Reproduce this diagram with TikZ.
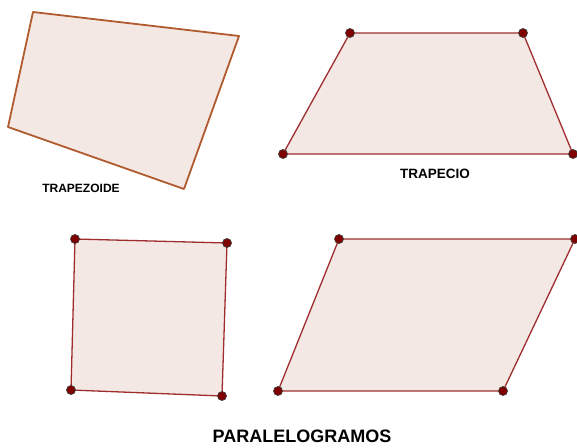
\documentclass[tikz,border=0pt]{standalone}
\usepackage{fontspec}
\setmainfont{Liberation Sans}
\definecolor{shfill}{HTML}{F4E8E4}
\definecolor{tzline}{HTML}{B05A2E}
\definecolor{pline}{HTML}{9E2E2E}
\definecolor{dotfill}{HTML}{800000}
\tikzset{
  shapefill/.style={fill=shfill},
  tzedge/.style={draw=tzline, line width=1.8pt, line join=round},
  pedge/.style={draw=pline, line width=1.3pt, line join=round},
  vdot/.style={circle, fill=dotfill, draw=black!75, line width=0.7pt, inner sep=0pt, minimum size=9pt},
  lbl/.style={font=\bfseries, text=black, inner sep=0pt}
}
\begin{document}
\begin{tikzpicture}[x=1pt,y=-1pt]
\useasboundingbox (0,0) rectangle (577,447);
% Trapezoide
\coordinate (a1) at (33,12);
\coordinate (a2) at (239,36);
\coordinate (a3) at (184,189);
\coordinate (a4) at (8,127);
\path[shapefill, tzedge] (a1) -- (a2) -- (a3) -- (a4) -- cycle;
\node[lbl, font=\bfseries\fontsize{12}{14}\selectfont] (t1) at (81,188) {TRAPEZOIDE};
% Trapecio
\coordinate (b1) at (350,33);
\coordinate (b2) at (523,33);
\coordinate (b3) at (573,154);
\coordinate (b4) at (283,154);
\path[shapefill, pedge] (b1) -- (b2) -- (b3) -- (b4) -- cycle;
\foreach \p in {b1,b2,b3,b4} \node[vdot] (d\p) at (\p) {};
\node[lbl, font=\bfseries\fontsize{13.5}{16}\selectfont] (t2) at (435,173.5) {TRAPECIO};
% Cuadrado
\coordinate (c1) at (75,239);
\coordinate (c2) at (227,243);
\coordinate (c3) at (222,396);
\coordinate (c4) at (71,390);
\path[shapefill, pedge] (c1) -- (c2) -- (c3) -- (c4) -- cycle;
\foreach \p in {c1,c2,c3,c4} \node[vdot] (d\p) at (\p) {};
% Romboide
\coordinate (e1) at (339,239);
\coordinate (e2) at (575,239);
\coordinate (e3) at (503,391);
\coordinate (e4) at (278,391);
\path[shapefill, pedge] (e1) -- (e2) -- (e3) -- (e4) -- cycle;
\foreach \p in {e1,e2,e3,e4} \node[vdot] (d\p) at (\p) {};
\node[lbl, font=\bfseries\fontsize{18}{21}\selectfont] (t3) at (302,436) {PARALELOGRAMOS};
\end{tikzpicture}
\end{document}
